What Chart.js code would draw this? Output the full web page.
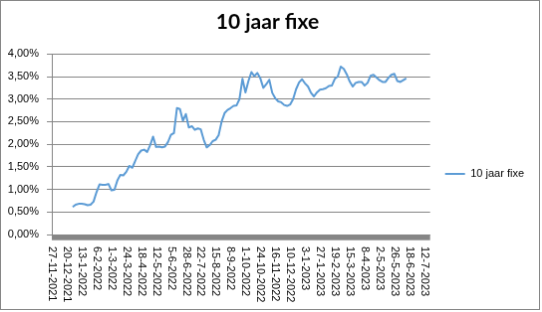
<!DOCTYPE html>
<html>
<head>
<meta charset="utf-8">
<script src="https://cdn.jsdelivr.net/npm/chart.js@4.4.0/dist/chart.umd.min.js"></script>
<style>
  body { margin: 0; background: #fff; }
  #chart { display: block; border: 1px solid #868686; }
</style>
</head>
<body>
<canvas id="chart" width="540" height="310"></canvas>
<script>
const seriesName = '10 jaar fixe';

const tickLabels = ['27-11-2021', '20-12-2021', '13-1-2022', '6-2-2022', '1-3-2022', '24-3-2022',
  '18-4-2022', '12-5-2022', '5-6-2022', '28-6-2022', '22-7-2022', '15-8-2022', '8-9-2022',
  '1-10-2022', '24-10-2022', '16-11-2022', '10-12-2022', '3-1-2023', '27-1-2023', '19-2-2023',
  '15-3-2023', '8-4-2023', '2-5-2023', '26-5-2023', '18-6-2023', '12-7-2023'];

const yTickLabels = ['0,00%', '0,50%', '1,00%', '1,50%', '2,00%', '2,50%', '3,00%', '3,50%', '4,00%'];

// rente in %, 5 punten per datumlabel
const values = [
  null, null, null, null, null, null, null, 0.61, 0.66, 0.68,
  0.68, 0.67, 0.65, 0.66, 0.73, 0.94, 1.11, 1.10, 1.10, 1.12,
  0.98, 0.99, 1.20, 1.32, 1.31, 1.39, 1.52, 1.48, 1.63, 1.78,
  1.86, 1.88, 1.83, 1.98, 2.17, 1.94, 1.95, 1.93, 1.95, 2.05,
  2.21, 2.25, 2.80, 2.78, 2.52, 2.67, 2.37, 2.40, 2.32, 2.35,
  2.33, 2.10, 1.93, 1.98, 2.07, 2.10, 2.20, 2.50, 2.69, 2.76,
  2.80, 2.85, 2.86, 3.00, 3.45, 3.15, 3.40, 3.60, 3.51, 3.58,
  3.46, 3.25, 3.33, 3.43, 3.14, 3.02, 2.95, 2.93, 2.87, 2.85,
  2.88, 3.00, 3.22, 3.37, 3.44, 3.35, 3.28, 3.14, 3.06, 3.15,
  3.21, 3.22, 3.24, 3.29, 3.30, 3.45, 3.50, 3.72, 3.67, 3.55,
  3.39, 3.28, 3.36, 3.38, 3.38, 3.30, 3.36, 3.52, 3.54, 3.48,
  3.42, 3.38, 3.38, 3.47, 3.54, 3.56, 3.40, 3.38, 3.42, 3.46,
  null, null, null, null, null, null, null, null
];

const categories = values.map((v, i) => i % 5 === 0 ? (tickLabels[i / 5] || '') : '');

// dikke grijze x-as onder de 0-lijn
const axisBand = {
  id: 'axisBand',
  beforeDatasetsDraw(chart) {
    const {ctx, chartArea} = chart;
    ctx.save();
    ctx.fillStyle = '#868686';
    ctx.fillRect(chartArea.left, chartArea.bottom, chartArea.right - chartArea.left, 5.7);
    ctx.restore();
  }
};

// datumlabels van boven naar beneden
const dateLabels = {
  id: 'dateLabels',
  afterDraw(chart) {
    const {ctx} = chart;
    const xScale = chart.scales.x;
    ctx.save();
    ctx.font = '11px "Liberation Sans"';
    ctx.fillStyle = '#000';
    ctx.textAlign = 'left';
    ctx.textBaseline = 'middle';
    tickLabels.forEach((t, k) => {
      ctx.save();
      ctx.translate(xScale.getPixelForValue(k * 5), chart.chartArea.bottom + 12);
      ctx.rotate(Math.PI / 2);
      ctx.fillText(t, 0, 0);
      ctx.restore();
    });
    ctx.restore();
  }
};

new Chart(document.getElementById('chart'), {
  type: 'line',
  data: {
    labels: categories,
    datasets: [{
      label: seriesName,
      data: values,
      borderColor: '#5B9BD5',
      backgroundColor: '#5B9BD5',
      borderWidth: 2,
      pointRadius: 0,
      tension: 0,
      borderJoinStyle: 'round'
    }]
  },
  options: {
    responsive: false,
    devicePixelRatio: 1,
    animation: false,
    layout: { padding: { right: 5 } },
    scales: {
      x: {
        grid: { display: false },
        border: { display: false },
        ticks: { display: false },
        afterFit(scale) { scale.height = 75; }
      },
      y: {
        min: 0,
        max: 4,
        grid: { color: '#868686', tickColor: '#868686', tickLength: 5 },
        border: { color: '#868686' },
        ticks: {
          stepSize: 0.5,
          padding: 8,
          color: '#000',
          font: { family: 'Liberation Sans', size: 11 },
          callback: (v, i) => yTickLabels[i]
        },
        afterFit(scale) { scale.width = 51; }
      }
    },
    plugins: {
      title: {
        display: true,
        text: seriesName,
        color: '#000',
        font: { family: 'Lato', size: 21, weight: 'bold' },
        padding: { top: 8.5, bottom: 19.6 }
      },
      legend: {
        position: 'right',
        title: { display: true, text: '', font: { size: 10 }, padding: { top: 26, bottom: 0 } },
        labels: {
          usePointStyle: true,
          pointStyle: 'line',
          pointStyleWidth: 20,
          padding: 15,
          color: '#000',
          font: { family: 'Liberation Sans', size: 11 }
        }
      },
      tooltip: { enabled: false }
    }
  },
  plugins: [axisBand, dateLabels]
});
</script>
</body>
</html>
